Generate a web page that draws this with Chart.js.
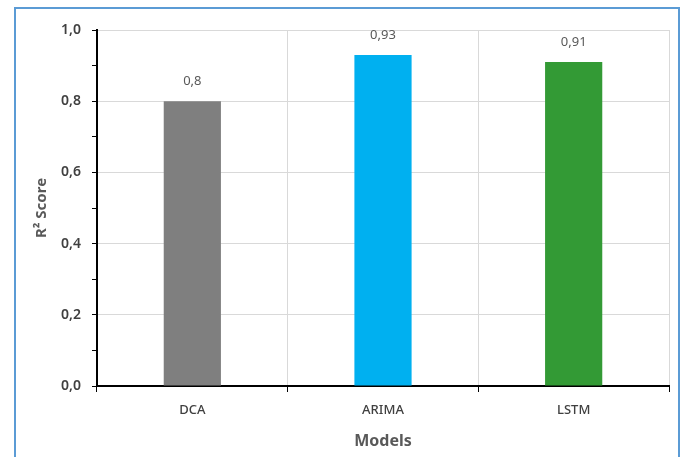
<!DOCTYPE html>
<html>
<head>
<meta charset="utf-8">
<script src="https://cdn.jsdelivr.net/npm/chart.js@4.4.1/dist/chart.umd.min.js"></script>
<style>
  html, body { margin: 0; padding: 0; background: #fff; }
  #wrap { position: relative; width: 686px; height: 457px; overflow: hidden; }
  #frame { position: absolute; left: 14px; top: 7px; width: 666px; height: 470px;
           border: 2px solid #5b9bd5; box-sizing: border-box; }
  canvas { position: absolute; left: 0; top: 0; }
</style>
</head>
<body>
<div id="wrap">
  <div id="frame"></div>
  <canvas id="c" width="686" height="457"></canvas>
</div>
<script>
// Model names and their R² scores
const models = ['DCA', 'ARIMA', 'LSTM'];
const r2Scores = [0.8, 0.93, 0.91];
const barColors = ['#7f7f7f', '#00b0f0', '#339a35'];

const FONT = '"Noto Sans", "Open Sans", sans-serif';
const fmt = v => String(v).replace('.', ',');

// Value labels above each bar, formatted with a decimal comma
const valueLabels = {
  id: 'valueLabels',
  afterDatasetsDraw(chart) {
    const ctx = chart.ctx;
    const meta = chart.getDatasetMeta(0);
    ctx.save();
    ctx.font = '13px ' + FONT;
    ctx.fillStyle = '#595959';
    ctx.textAlign = 'center';
    ctx.textBaseline = 'middle';
    meta.data.forEach((bar, i) => {
      ctx.fillText(fmt(r2Scores[i]), bar.x, bar.y - 20);
    });
    ctx.restore();
  }
};

const isMajor = v => Math.round(v * 10) % 2 === 0;

new Chart(document.getElementById('c'), {
  type: 'bar',
  data: {
    labels: models,
    datasets: [{
      data: r2Scores,
      backgroundColor: barColors,
      borderWidth: 0,
      barPercentage: 0.3,
      categoryPercentage: 1.0
    }]
  },
  options: {
    responsive: false,
    animation: false,
    events: [],
    layout: { padding: { left: 16, right: 17, top: 30, bottom: 2 } },
    plugins: { legend: { display: false }, tooltip: { enabled: false } },
    scales: {
      x: {
        grid: { offset: true, color: '#d9d9d9', tickColor: '#000', tickLength: 6, lineWidth: 1 },
        border: { color: '#000', width: 2 },
        ticks: { color: '#404040', font: { family: FONT, size: 13, weight: '500' }, padding: 10 },
        title: { display: true, text: 'Models', color: '#595959',
                 font: { family: FONT, size: 16, weight: 'bold' }, padding: { top: 6 } },
        afterFit(scale) { scale.height = 69; }
      },
      y: {
        min: 0, max: 1,
        ticks: {
          stepSize: 0.1,
          autoSkip: false,
          color: '#404040',
          font: { family: FONT, size: 14, weight: '600' },
          padding: 11,
          callback: v => isMajor(v) ? (Math.round(v * 10) / 10).toFixed(1).replace('.', ',') : ''
        },
        grid: {
          color: c => isMajor(c.tick.value) && c.tick.value > 0 ? '#d9d9d9' : 'rgba(0,0,0,0)',
          tickColor: '#000',
          tickLength: 5,
          lineWidth: 1
        },
        border: { color: '#000', width: 2 },
        title: { display: true, text: 'R² Score', color: '#595959',
                 font: { family: FONT, size: 15, weight: 'bold' }, padding: { top: 17, bottom: 4 } },
        afterFit(scale) { scale.width = 81; }
      }
    }
  },
  plugins: [valueLabels]
});
</script>
</body>
</html>
